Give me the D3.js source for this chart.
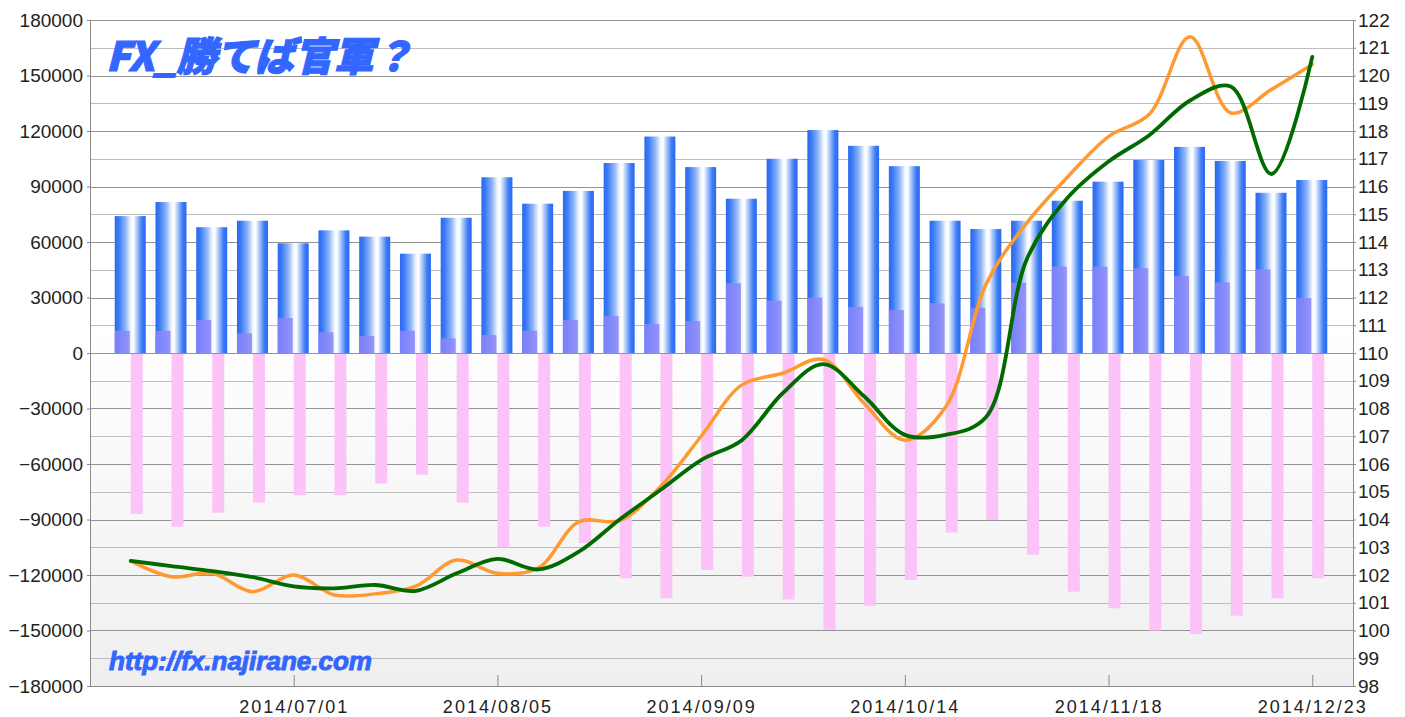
<!DOCTYPE html>
<html>
<head>
<meta charset="utf-8">
<script src="https://cdn.jsdelivr.net/npm/d3@7/dist/d3.min.js"></script>
<style>
  html, body { margin: 0; padding: 0; background: #ffffff; }
  svg { display: block; }
</style>
</head>
<body>
<svg id="chart" width="1405" height="717"></svg>
<script>
// ---- data ----
const dates = ["2014/06/03","2014/06/10","2014/06/17","2014/06/24","2014/07/01","2014/07/08","2014/07/15","2014/07/22","2014/07/29","2014/08/05",
               "2014/08/12","2014/08/19","2014/08/26","2014/09/02","2014/09/09","2014/09/16","2014/09/23","2014/09/30","2014/10/07","2014/10/14",
               "2014/10/21","2014/10/28","2014/11/04","2014/11/11","2014/11/18","2014/11/25","2014/12/02","2014/12/09","2014/12/16","2014/12/23"];
const tickDates = ["2014/07/01","2014/08/05","2014/09/09","2014/10/14","2014/11/18","2014/12/23"];
const longs  = [74000, 81600, 68000, 71500, 59300, 66300, 62900, 53700, 73100, 95000,
                80700, 87600, 102700, 117000, 100500, 83400, 105000, 120500, 112000, 101000,
                71500, 67000, 71500, 82300, 92600, 104300, 111400, 103800, 86600, 93500];
const nets   = [12000, 12000, 17800, 10600, 18900, 11200, 9200, 12000, 7900, 9700,
                12000, 17800, 20000, 15700, 17300, 37700, 28300, 29900, 24900, 23200,
                26800, 24400, 38000, 46700, 46700, 45800, 41600, 38200, 45200, 29700];
const shorts = [-87000, -93900, -86300, -80900, -76900, -76900, -70500, -65800, -80900, -105000,
                -93900, -102700, -121800, -132600, -117300, -120900, -133200, -149700, -136600, -122700,
                -97000, -90300, -109000, -129000, -138000, -150000, -151900, -142000, -132600, -121800];
const rateGreen  = [102.51, 102.32, 102.14, 101.92, 101.59, 101.52, 101.64, 101.43, 102.06, 102.58,
                    102.2, 102.84, 104.0, 105.06, 106.14, 106.86, 108.55, 109.6, 108.44, 107.05,
                    107.05, 107.7, 113.4, 115.6, 116.9, 117.85, 119.1, 119.6, 116.45, 120.67];
const rateOrange = [102.51, 101.94, 102.06, 101.4, 102.0, 101.28, 101.32, 101.6, 102.54, 102.06,
                    102.25, 103.92, 103.96, 105.18, 107.0, 108.85, 109.27, 109.77, 108.19, 106.86,
                    108.05, 112.5, 114.7, 116.35, 117.8, 118.6, 121.4, 118.65, 119.5, 120.4];
const leftTicks = d3.range(-180000, 180001, 30000);
const rightTicks = d3.range(98, 123, 1);
const titleText = "FX_勝てば官軍？";
const urlText = "http://fx.najirane.com";

// ---- layout ----
const L = 90, R = 1353, T = 20, B = 686;
const svg = d3.select("#chart");
const x = d3.scalePoint().domain(dates).range([L, R]).padding(1);
const yL = d3.scaleLinear().domain([-180000, 180000]).range([B, T]);
const yR = d3.scaleLinear().domain([98, 122]).range([B, T]);

const defs = svg.append("defs");
const bg = defs.append("linearGradient").attr("id", "bg").attr("x1", 0).attr("y1", 0).attr("x2", 0).attr("y2", 1);
bg.append("stop").attr("offset", "0%").attr("stop-color", "#ffffff");
bg.append("stop").attr("offset", "45%").attr("stop-color", "#ffffff");
bg.append("stop").attr("offset", "100%").attr("stop-color", "#efefef");

const bar = defs.append("linearGradient").attr("id", "barg").attr("x1", 0).attr("y1", 0).attr("x2", 1).attr("y2", 0);
[["0%", "#2a68f2"], ["12%", "#3a79f4"], ["35%", "#8fb6f8"], ["52%", "#f4f8ff"], ["60%", "#ffffff"],
 ["72%", "#a9c7fa"], ["88%", "#3b7bf4"], ["100%", "#2a68f2"]].forEach(s =>
  bar.append("stop").attr("offset", s[0]).attr("stop-color", s[1]));

svg.append("rect").attr("x", L).attr("y", T).attr("width", R - L).attr("height", B - T).attr("fill", "url(#bg)");

// gridlines every 15000
const gridVals = d3.range(-165000, 180001, 15000);
svg.append("g").selectAll("line").data(gridVals).join("line")
  .attr("x1", L).attr("x2", R)
  .attr("y1", d => Math.round(yL(d)) + 0.5).attr("y2", d => Math.round(yL(d)) + 0.5)
  .attr("stroke", d => d % 30000 === 0 ? "#939393" : "#bdbdbd")
  .attr("stroke-width", 1);

// blue bars
svg.append("g").selectAll("rect").data(dates).join("rect")
  .attr("x", d => x(d) - 16)
  .attr("y", (d, i) => yL(longs[i]))
  .attr("width", 31)
  .attr("height", (d, i) => yL(0) - yL(longs[i]))
  .attr("fill", "url(#barg)");

// net overlay bars
svg.append("g").selectAll("rect").data(dates).join("rect")
  .attr("x", d => x(d) - 16)
  .attr("y", (d, i) => yL(nets[i]))
  .attr("width", 15)
  .attr("height", (d, i) => yL(0) - yL(nets[i]))
  .attr("fill", "#8a86fa")
  .attr("opacity", 0.85);

// short bars
svg.append("g").selectAll("rect").data(dates).join("rect")
  .attr("x", d => x(d))
  .attr("y", yL(0) + 1)
  .attr("width", 12)
  .attr("height", (d, i) => yL(shorts[i]) - yL(0) - 1)
  .attr("fill", "#fbc3f7");

// lines
const lineGen = arr => d3.line()
  .x((d, i) => x(dates[i]))
  .y(d => yR(d))
  .curve(d3.curveCatmullRom.alpha(0.5))(arr);

svg.append("path").attr("d", lineGen(rateOrange))
  .attr("fill", "none").attr("stroke", "#ff9a33").attr("stroke-width", 3.5)
  .attr("stroke-linejoin", "round").attr("stroke-linecap", "round");
svg.append("path").attr("d", lineGen(rateGreen))
  .attr("fill", "none").attr("stroke", "#006a00").attr("stroke-width", 3.8)
  .attr("stroke-linejoin", "round").attr("stroke-linecap", "round");

// axes
const axisFont = "'Liberation Sans', Arial, sans-serif";
const gL = svg.append("g").attr("transform", `translate(${L},0)`)
  .call(d3.axisLeft(yL).tickValues(leftTicks).tickSize(3).tickSizeOuter(0).tickFormat(d3.format("d")));
const gR = svg.append("g").attr("transform", `translate(${R},0)`)
  .call(d3.axisRight(yR).tickValues(rightTicks).tickSize(3).tickSizeOuter(0).tickFormat(d3.format("d")));
const gB = svg.append("g").attr("transform", `translate(0,${B})`)
  .call(d3.axisBottom(x).tickValues(tickDates).tickSize(-11).tickSizeOuter(0));
[gL, gR, gB].forEach(g => {
  g.select(".domain").attr("stroke", "#8a8a8a");
  g.selectAll(".tick line").attr("stroke", "#8a8a8a");
  g.selectAll(".tick text").attr("fill", "#222").style("font-family", axisFont).style("font-size", "19px");
});
gL.selectAll(".tick text").attr("x", -7);
gR.selectAll(".tick text").attr("x", 5);
gB.selectAll(".tick text").attr("y", 14).style("font-size", "18px").style("letter-spacing", "2px");
svg.append("line").attr("x1", L).attr("x2", R).attr("y1", B + 0.5).attr("y2", B + 0.5).attr("stroke", "#8a8a8a");

// title & url
svg.append("text").attr("x", 106).attr("y", 71)
  .text(titleText)
  .style("font-family", "'Noto Sans CJK JP', sans-serif")
  .style("font-weight", "900").style("font-style", "italic")
  .style("font-size", "40px").style("letter-spacing", "-0.5px")
  .attr("fill", "#3366ff").attr("stroke", "#3366ff").attr("stroke-width", 1.2);
svg.append("text").attr("x", 109).attr("y", 670)
  .text(urlText)
  .style("font-family", "'Liberation Sans', Arial, sans-serif")
  .style("font-weight", "bold").style("font-style", "italic")
  .style("font-size", "26px").style("letter-spacing", "0px")
  .attr("fill", "#3366ff").attr("stroke", "#3366ff").attr("stroke-width", 1);
</script>
</body>
</html>
